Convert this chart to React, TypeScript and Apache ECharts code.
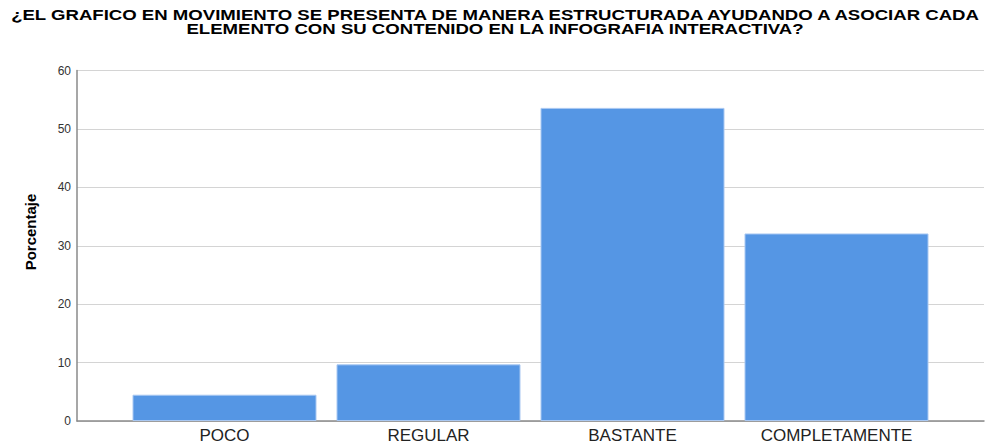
import React, { useEffect, useRef } from "react";
import * as echarts from "echarts";

const categories = ["POCO", "REGULAR", "BASTANTE", "COMPLETAMENTE"];
const percentages = [4.5, 9.7, 53.6, 32.1];
const titleLines = [
  "¿EL GRAFICO EN MOVIMIENTO SE PRESENTA DE MANERA ESTRUCTURADA AYUDANDO A ASOCIAR CADA",
  "ELEMENTO CON SU CONTENIDO EN LA INFOGRAFIA INTERACTIVA?",
];
const yAxisName = "Porcentaje";
const FONT = "Liberation Sans, Arial, sans-serif";

export default function App() {
  const ref = useRef<HTMLDivElement>(null);
  useEffect(() => {
    if (!ref.current) return;
    const chart = echarts.init(ref.current, null, { renderer: "svg" });
    chart.setOption({
      animation: false,
      backgroundColor: "#ffffff",
      textStyle: { fontFamily: FONT },
      graphic: [
        {
          type: "text",
          x: 495,
          y: 8,
          scaleX: 1.24,
          originX: 0,
          style: {
            text: titleLines.join("\n"),
            fill: "#000",
            font: "bold 15px " + FONT,
            lineHeight: 14,
            align: "center",
            verticalAlign: "top",
          },
        },
        {
          type: "text",
          x: 30,
          y: 232,
          rotation: Math.PI / 2,
          style: {
            text: yAxisName,
            fill: "#000",
            font: "bold 15px " + FONT,
            align: "center",
            verticalAlign: "middle",
          },
        },
      ],
      grid: [
        { left: 77, right: 6, top: 70.5, bottom: 23, containLabel: false },
        { left: 122.5, width: 816, top: 70.5, bottom: 23, containLabel: false },
      ],
      xAxis: [
        {
          gridIndex: 0,
          type: "category",
          data: categories,
          axisLine: { show: true, lineStyle: { color: "#8a8a8a", width: 1.5 } },
          axisTick: { show: false },
          axisLabel: { show: false },
        },
        {
          gridIndex: 1,
          type: "category",
          data: categories,
          axisLine: { show: false },
          axisTick: { show: false },
          axisLabel: {
            color: "#222",
            fontSize: 17,
            margin: 6,
            fontFamily: FONT,
          },
        },
      ],
      yAxis: [
        {
          gridIndex: 0,
          type: "value",
          min: 0,
          max: 60,
          interval: 10,
          axisLine: { show: true, lineStyle: { color: "#8a8a8a", width: 1.5 } },
          axisTick: { show: false },
          axisLabel: { color: "#333", fontSize: 12, margin: 6 },
          splitLine: { show: true, lineStyle: { color: "#d4d4d4", width: 1.2 } },
        },
        {
          gridIndex: 1,
          type: "value",
          min: 0,
          max: 60,
          interval: 10,
          axisLine: { show: false },
          axisTick: { show: false },
          axisLabel: { show: false },
          splitLine: { show: false },
        },
      ],
      series: [
        {
          type: "bar",
          xAxisIndex: 1,
          yAxisIndex: 1,
          data: percentages,
          barCategoryGap: 20,
          itemStyle: {
            color: "#5596e4",
            borderColor: "#a9c8f2",
            borderWidth: 1,
          },
        },
      ],
    });
    return () => chart.dispose();
  }, []);
  return (
    <div
      ref={ref}
      style={{ position: "fixed", left: 0, top: 0, width: 990, height: 444 }}
    />
  );
}
